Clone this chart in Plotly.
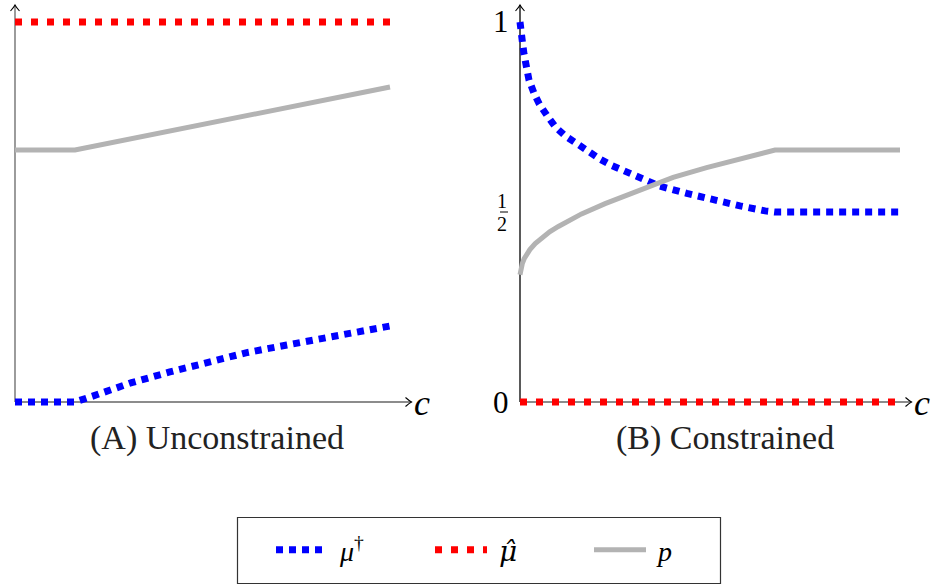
import plotly.graph_objects as go

# ---------------- data ----------------
# Panel A (unconstrained)
a_mu_dag_c = [0, 0.16, 0.209, 0.245, 0.311, 0.413, 0.515, 0.618, 0.725, 0.831, 0.933, 1.0]
a_mu_dag_v = [0, 0, 0.016, 0.029, 0.051, 0.079, 0.105, 0.130, 0.150, 0.169, 0.188, 0.200]
a_mu_hat_c = [0, 1.0]
a_mu_hat_v = [1.0, 1.0]
a_p_c = [0, 0.16, 1.0]
a_p_v = [0.663, 0.663, 0.829]

# Panel B (constrained)
b_mu_dag_c = [0, 0.003, 0.006, 0.0105, 0.0158, 0.0237, 0.0368, 0.0508, 0.0718, 0.0929, 0.118,
              0.146, 0.173, 0.211, 0.242, 0.274, 0.307, 0.368, 0.439, 0.508, 0.579, 0.645, 0.671, 1.0]
b_mu_dag_v = [1.0, 0.985, 0.950, 0.916, 0.882, 0.847, 0.813, 0.784, 0.753, 0.724, 0.701,
              0.681, 0.661, 0.639, 0.622, 0.608, 0.594, 0.568, 0.549, 0.532, 0.516, 0.503, 0.5, 0.5]
b_mu_hat_c = [0, 1.0]
b_mu_hat_v = [0.0, 0.0]
b_p_c = [0, 0.002, 0.006, 0.011, 0.018, 0.026, 0.040, 0.057, 0.078, 0.101, 0.130, 0.162, 0.224,
         0.276, 0.329, 0.403, 0.491, 0.579, 0.671, 1.0]
b_p_v = [0.335, 0.350, 0.364, 0.377, 0.389, 0.401, 0.417, 0.432, 0.448, 0.462, 0.478, 0.495, 0.522,
         0.543, 0.564, 0.591, 0.617, 0.641, 0.663, 0.663]

series_names = [
    "\u00a0<i>μ</i><sup>†</sup>",
    "\u00a0<span style='font-family:DejaVu Serif'><i>μ̂</i></span>",
    "\u00a0<i>p</i>",
]
panel_titles = ["(A) Unconstrained", "(B) Constrained"]
tick_one, tick_zero, tick_half_num, tick_half_den = "1", "0", "1", "2"
axis_label = "<i>c</i>"

# ---------------- layout constants (pixels) ----------------
W, H = 942, 585
SERIF = "Liberation Serif, Times New Roman, serif"
BLUE, RED, GRAY = "#0000ff", "#ff0000", "#b3b3b3"

# x pixel mapping per panel: (pixel of c=0, pixel of c=1, domain px left, domain px right, arrow tip px)
PANELS = [
    dict(c0=15, c1=390, d0=0, d1=425, tip=411.5),
    dict(c0=520, c1=900, d0=500, d1=940, tip=911.5),
]
V0, V1 = 402, 22          # pixel y of value 0 and 1
YD0, YD1 = 2, 422         # domain pixel top, bottom
Y_TIP = 5


def xrange_for(p):
    s = p["c1"] - p["c0"]
    return [(p["d0"] - p["c0"]) / s, (p["d1"] - p["c0"]) / s]


def yval(py):
    return (V0 - py) / (V0 - V1)


fig = go.Figure()

dot_blue = dict(color=BLUE, width=7, dash="7px,6px")
dot_red = dict(color=RED, width=7, dash="7px,9px")
solid_gray = dict(color=GRAY, width=5)

# Panel A traces
fig.add_trace(go.Scatter(x=a_mu_dag_c, y=a_mu_dag_v, mode="lines", line=dot_blue,
                         name=series_names[0], legendgroup="a", xaxis="x", yaxis="y"))
fig.add_trace(go.Scatter(x=a_mu_hat_c, y=a_mu_hat_v, mode="lines", line=dot_red,
                         name=series_names[1], legendgroup="b", xaxis="x", yaxis="y"))
fig.add_trace(go.Scatter(x=a_p_c, y=a_p_v, mode="lines", line=solid_gray,
                         name=series_names[2], legendgroup="c", xaxis="x", yaxis="y"))
# Panel B traces
fig.add_trace(go.Scatter(x=b_mu_dag_c, y=b_mu_dag_v, mode="lines", line=dot_blue,
                         name=series_names[0], legendgroup="a", showlegend=False, xaxis="x2", yaxis="y2"))
fig.add_trace(go.Scatter(x=b_mu_hat_c, y=b_mu_hat_v, mode="lines", line=dot_red,
                         name=series_names[1], legendgroup="b", showlegend=False, xaxis="x2", yaxis="y2"))
fig.add_trace(go.Scatter(x=b_p_c, y=b_p_v, mode="lines", line=solid_gray,
                         name=series_names[2], legendgroup="c", showlegend=False, xaxis="x2", yaxis="y2"))

ydom = [1 - YD1 / H, 1 - YD0 / H]
yrange = [yval(YD1), yval(YD0)]
hidden = dict(visible=False, showgrid=False, zeroline=False, fixedrange=True)

fig.update_layout(
    xaxis=dict(domain=[PANELS[0]["d0"] / W, PANELS[0]["d1"] / W], range=xrange_for(PANELS[0]), anchor="y", **hidden),
    yaxis=dict(domain=ydom, range=yrange, anchor="x", **hidden),
    xaxis2=dict(domain=[PANELS[1]["d0"] / W, PANELS[1]["d1"] / W], range=xrange_for(PANELS[1]), anchor="y2", **hidden),
    yaxis2=dict(domain=ydom, range=yrange, anchor="x2", **hidden),
)

shapes = []
annotations = []
axis_colors = [("#666666", "#666666"), ("#666666", "#000000")]
for i, p in enumerate(PANELS):
    xr = "x" if i == 0 else "x2"
    yr = "y" if i == 0 else "y2"
    s = p["c1"] - p["c0"]
    x_tip = (p["tip"] - p["c0"]) / s
    y_tip = yval(Y_TIP)
    xcol, ycol = axis_colors[i]
    # axis lines
    shapes.append(dict(type="line", xref=xr, yref=yr, x0=0, y0=0, x1=x_tip, y1=0,
                       line=dict(color=xcol, width=1.3), layer="below"))
    shapes.append(dict(type="line", xref=xr, yref=yr, x0=0, y0=0, x1=0, y1=y_tip,
                       line=dict(color=ycol, width=1.3), layer="below"))
    # arrowheads
    shapes.append(dict(type="path", xref=xr, yref=yr, xsizemode="pixel", ysizemode="pixel",
                       xanchor=x_tip, yanchor=0, path="M -6 4.5 Q -2 1 0 0 Q -2 -1 -6 -4.5",
                       line=dict(color="#000000", width=1.1)))
    shapes.append(dict(type="path", xref=xr, yref=yr, xsizemode="pixel", ysizemode="pixel",
                       xanchor=0, yanchor=y_tip, path="M -4.5 -6 Q -1 -2 0 0 Q 1 -2 4.5 -6",
                       line=dict(color="#000000", width=1.1)))
    # axis label c
    annotations.append(dict(xref=xr, yref=yr, x=x_tip, y=0, text=axis_label, showarrow=False,
                            xanchor="left", yanchor="middle", xshift=0, yshift=-1,
                            font=dict(family=SERIF, size=36, color="#000000")))
    # panel title
    annotations.append(dict(xref="paper", yref="paper", x=[217, 725][i] / W, y=1 - 438 / H,
                            text=panel_titles[i], showarrow=False, xanchor="center", yanchor="middle",
                            font=dict(family=SERIF, size=34, color="#222222")))

# tick labels of panel B
annotations.append(dict(xref="x2", yref="y2", x=0, y=1, text=tick_one, showarrow=False,
                        xanchor="right", yanchor="middle", xshift=-9, yshift=0,
                        font=dict(family=SERIF, size=31, color="#000000")))
annotations.append(dict(xref="x2", yref="y2", x=0, y=0, text=tick_zero, showarrow=False,
                        xanchor="right", yanchor="middle", xshift=-9, yshift=0,
                        font=dict(family=SERIF, size=31, color="#000000")))
annotations.append(dict(xref="x2", yref="y2", x=0, y=0.5, text=tick_half_num, showarrow=False,
                        xanchor="center", yanchor="middle", xshift=-18, yshift=11,
                        font=dict(family=SERIF, size=20, color="#000000")))
annotations.append(dict(xref="x2", yref="y2", x=0, y=0.5, text=tick_half_den, showarrow=False,
                        xanchor="center", yanchor="middle", xshift=-18, yshift=-12,
                        font=dict(family=SERIF, size=20, color="#000000")))
shapes.append(dict(type="line", xref="x2", yref="y2", xsizemode="pixel", xanchor=0,
                   x0=-24, x1=-12, y0=0.5, y1=0.5, line=dict(color="#000000", width=1)))

# legend frame
shapes.append(dict(type="rect", xref="paper", yref="paper", x0=237.5 / W, x1=720.5 / W,
                   y0=1 - 583.5 / H, y1=1 - 517.5 / H, line=dict(color="#333333", width=1.2)))

fig.update_layout(
    width=W, height=H,
    margin=dict(l=0, r=0, t=0, b=0),
    paper_bgcolor="white", plot_bgcolor="white",
    shapes=shapes, annotations=annotations,
    showlegend=True,
    legend=dict(orientation="h", x=271 / W, y=1 - 550 / H, xanchor="left", yanchor="middle",
                entrywidth=92, entrywidthmode="pixels", itemwidth=52,
                font=dict(family=SERIF, size=28, color="#000000"),
                bgcolor="rgba(0,0,0,0)", borderwidth=0),
)

fig.write_html("out.html", config={"displayModeBar": False},
               post_script="document.body.style.margin='0px';document.body.style.overflow='hidden';")
